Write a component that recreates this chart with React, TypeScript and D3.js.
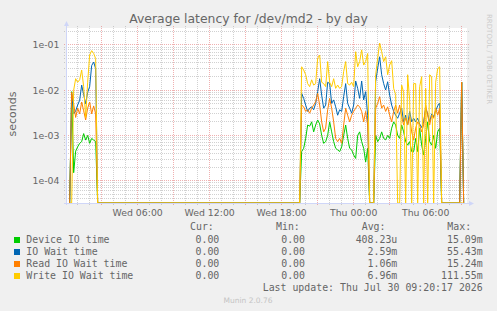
import * as d3 from "d3";

// Munin "by day" latency graph: log y-axis, 5-min rrd steps, 400px plot.

const W = 497;
const H = 311;
const X0 = 67;
const X1 = 467;
const Y0 = 28;
const Y1 = 203;

const TITLE = "Average latency for /dev/md2 - by day";
const Y_LABEL = "seconds";
const VERSION = "Munin 2.0.76";
const LAST_UPDATE = "Last update: Thu Jul 30 09:20:17 2026";
const WATERMARK = "RRDTOOL / TOBI OETIKER";

const VIEW_START = new Date(2026, 6, 29, 0, 6, 40);
const VIEW_END = new Date(2026, 6, 30, 9, 26, 40);
const Y_MIN = 3.21e-5;
const Y_MAX = 0.2376;

// samples read every 10 min from Wed 00:20; outside the bursts the values are 0
const SAMPLE_START = new Date(2026, 6, 29, 0, 20);
const SAMPLE_STEP_MIN = 10;
const SAMPLE_COUNT = 198;

const seriesNames = ["Device IO time", "IO Wait time", "Read IO Wait time", "Write IO Wait time"];
const seriesColors = ["#00cc00", "#0066b3", "#ff8000", "#ffcc00"];
const curText = ["0.00", "0.00", "0.00", "0.00"];
const minText = ["0.00", "0.00", "0.00", "0.00"];
const avgText = ["408.23u", "2.59m", "1.06m", "6.96m"];
const maxText = ["15.09m", "55.43m", "15.24m", "111.55m"];

// burst 1: Wed 00:20 - 02:40
const burst1At = 0;
const device1 = [0, 9.3e-3, 1.5e-4, 4.5e-4, 5.6e-4, 6.7e-4, 7.3e-4, 1.1e-3, 7.9e-4, 1.0e-3, 6.7e-4, 8.6e-4, 7.9e-4, 7.3e-4, 0];
const ioWait1 = [0, 8e-3, 3e-3, 3.5e-3, 4.7e-3, 6e-3, 1.3e-2, 8e-3, 5e-3, 9e-3, 1.2e-2, 3.5e-2, 4.2e-2, 3e-2, 0];
const read1 = [0, 9e-3, 5e-3, 2.5e-3, 4e-3, 3e-3, 5.5e-3, 3.5e-3, 2.2e-3, 4e-3, 5.5e-3, 3e-3, 4.5e-3, 3e-3, 0];
const write1 = [0, 0, 1e-2, 1.8e-2, 1.5e-2, 1.7e-2, 2.8e-2, 1.2e-2, 2.5e-3, 1.5e-2, 6e-2, 7.5e-2, 6.5e-2, 5e-2, 0];

// burst 2: Wed 19:40 - Thu 07:20
const burst2At = 116;
const device2 = [
  0.00044, 0.00052, 0.00086, 0.0017, 0.0016, 0.002, 0.0012, 0.0017, 0.0022, 0.0018,
  0.001, 0.00067, 0.00073, 0.001, 0.002, 0.0012, 0.00073, 0.00052, 0.00048, 0.00044,
  0.00056, 0.001, 0.0017, 0.00086, 0.00052, 0.00048, 0.00037, 0.00031, 0.001, 0.0012,
  0.00073, 0.00052, 0.00026, 0.00052, 0, 0, 0, 0.001, 0.00073, 0.00086,
  0.0012, 0.00086, 0.0008, 0.001, 0.00086, 0.00145, 0.002, 0.0017, 0.001, 0.00086,
  0.0017, 0.0012, 0.00073, 0.00061, 0.00073, 0.00044, 0.00044, 0.00086, 0.00044, 0.00145,
  0.00061, 0.00037, 0.00086, 0.002, 0.00073, 0.00061, 0.001, 0.00052, 0.0012, 0.00145,
  0,
];
const ioWait2 = [
  0.0085, 0.0066, 0.0047, 0.0034, 0.004, 0.0043, 0.0037, 0.0051, 0.0093, 0.018,
  0.0078, 0.004, 0.0047, 0.015, 0.014, 0.0051, 0.0061, 0.0043, 0.0028, 0.0037,
  0.0034, 0.0072, 0.014, 0.0051, 0.004, 0.0031, 0.0047, 0.016, 0.011, 0.0066,
  0.016, 0.0061, 0.0093, 0.0028, 0, 0, 0, 0.0154, 0.0305, 0.055,
  0.022, 0.014, 0.0101, 0.0154, 0.0078, 0.0047, 0.0034, 0.0028, 0.0024, 0.0031,
  0.004, 0.002, 0.0028, 0.0017, 0.0034, 0.002, 0.0024, 0.002, 0.0024, 0.0018,
  0.0015, 0.002, 0.004, 0.003, 0.002, 0.003, 0.0026, 0.0035, 0.0045, 0.0052,
  0,
];
const read2 = [
  0.0047, 0.0043, 0.0034, 0.0037, 0.0031, 0.004, 0.0047, 0.0056, 0.0085, 0.0047,
  0.002, 0.0012, 0.00145, 0.0037, 0.0066, 0.004, 0.002, 0.00086, 0.00073, 0.00086,
  0.00067, 0.0017, 0.004, 0.0028, 0.002, 0.0028, 0.0034, 0.004, 0.0047, 0.0043,
  0.0034, 0.002, 0.0034, 0.0017, 0, 0, 0, 0.004, 0.0051, 0.0072,
  0.004, 0.0047, 0.0034, 0.0043, 0.0028, 0.002, 0.0034, 0.0047, 0.0031, 0.0047,
  0.0026, 0.0017, 0.0024, 0.0017, 0.0026, 0.0012, 0.0008, 0.00145, 0.002, 0.0017,
  0.0012, 0.0017, 0.0047, 0.0028, 0.0017, 0.0028, 0.0024, 0.004, 0.0028, 0.004,
  0,
];
const write2 = [
  0.033, 0.028, 0.022, 0.014, 0.012, 0.017, 0.013, 0.014, 0.051, 0.06,
  0.015, 0.014, 0.012, 0.043, 0.015, 0.012, 0.018, 0.011, 0.013, 0.011,
  0.012, 0.026, 0.043, 0.014, 0.013, 0.015, 0.012, 0.071, 0.033, 0.043,
  0.078, 0.036, 0.043, 0.065, 0, 0, 0, 0.022, 0.051, 0.11,
  0.071, 0.043, 0.055, 0.022, 0.036, 0.045, 0.011, 0.008, 0, 0,
  0.013, 0.009, 0, 0.022, 0.006, 0, 0.014, 0.014, 0, 0.012,
  0.02, 0, 0.011, 0, 0.022, 0.02, 0, 0.015, 0.03, 0.033,
  0,
];

// burst 3: single spike around Thu 09:00
const burst3At = 195;
const device3 = [0, 0.0151, 0];
const ioWait3 = [0, 0.015, 0];
const read3 = [0, 0.0152, 0];
const write3 = [0, 0, 0];

type Pt = { t: Date; v: number };

function buildSeries(parts: [number, number[]][]): Pt[] {
  const out: Pt[] = [];
  for (let k = 0; k < SAMPLE_COUNT; k++) {
    let v = 0;
    for (const [at, vals] of parts) {
      if (k >= at && k < at + vals.length) v = vals[k - at];
    }
    out.push({ t: new Date(+SAMPLE_START + k * SAMPLE_STEP_MIN * 60000), v });
  }
  return out;
}

const seriesData = [
  buildSeries([[burst1At, device1], [burst2At, device2], [burst3At, device3]]),
  buildSeries([[burst1At, ioWait1], [burst2At, ioWait2], [burst3At, ioWait3]]),
  buildSeries([[burst1At, read1], [burst2At, read2], [burst3At, read3]]),
  buildSeries([[burst1At, write1], [burst2At, write2], [burst3At, write3]]),
];

const FONT = "DejaVu Sans, sans-serif";
const MONO = "DejaVu Sans Mono, monospace";
const TXT = "#666666";
const AXIS = "#cfd6f8";
const GRID = "rgba(140,140,140,0.4)";
const MGRID = "rgba(222,79,79,0.45)";

const px = (v: number) => Math.floor(v) + 0.5;

function expLabel(v: number) {
  const e = Math.round(Math.log10(v));
  const s = e < 0 ? "-" : "+";
  return `1e${s}${String(Math.abs(e)).padStart(2, "0")}`;
}

export default function App() {
  const x = d3.scaleTime().domain([VIEW_START, VIEW_END]).range([X0, X1]);
  const y = d3.scaleLog().domain([Y_MIN, Y_MAX]).range([Y1, Y0]).clamp(true);

  const hours = d3.timeHour.range(VIEW_START, VIEW_END);
  const yTicks = y.ticks();
  const isDecade = (v: number) => Math.abs(Math.log10(v) - Math.round(Math.log10(v))) < 1e-9;
  const fmt = d3.timeFormat("%a %H:%M");

  const line = d3
    .line<Pt>()
    .x((d) => x(d.t))
    .y((d) => y(Math.max(d.v, Y_MIN)));

  const colCur = 219.3;
  const colMin = 305;
  const colAvg = 397.3;
  const colMax = 482.7;
  const rowY = (i: number) => 243 + i * 12;

  return (
    <svg
      width={W}
      height={H}
      viewBox={`0 0 ${W} ${H}`}
      style={{ position: "absolute", left: 0, top: 0, display: "block" }}
    >
      <rect x={0} y={0} width={W} height={H} fill="#f0f0f0" />
      <rect x={X0} y={Y0} width={X1 - X0} height={Y1 - Y0} fill="#ffffff" />

      {/* horizontal grid */}
      {yTicks.map((v, i) => (
        <line
          key={`h${i}`}
          x1={X0 - 3}
          x2={X1 + 3}
          y1={px(y(v))}
          y2={px(y(v))}
          stroke={isDecade(v) ? MGRID : GRID}
          strokeDasharray="1,1"
        />
      ))}
      {/* vertical grid */}
      {hours.map((h, i) => (
        <line
          key={`v${i}`}
          x1={px(x(h))}
          x2={px(x(h))}
          y1={Y0 - 2}
          y2={Y1 + 3}
          stroke={h.getHours() % 3 === 0 ? MGRID : GRID}
          strokeDasharray="1,1"
        />
      ))}

      {/* data */}
      {seriesData.map((s, i) => (
        <path
          key={seriesNames[i]}
          d={line(s) ?? ""}
          fill="none"
          stroke={seriesColors[i]}
          strokeWidth={1}
          strokeLinejoin="round"
        />
      ))}

      {/* axes */}
      <line x1={X0 - 0.5} x2={X0 - 0.5} y1={Y1 + 2} y2={Y0 - 3} stroke={AXIS} />
      <path d={`M${X0 - 3},${Y0 - 2} L${X0 - 0.5},${Y0 - 7} L${X0 + 2},${Y0 - 2} Z`} fill={AXIS} />
      <line x1={X0 - 3} x2={X1 + 3} y1={Y1 + 0.5} y2={Y1 + 0.5} stroke={AXIS} />
      <path d={`M${X1 + 2},${Y1 - 2} L${X1 + 7},${Y1 + 0.5} L${X1 + 2},${Y1 + 3} Z`} fill={AXIS} />

      {/* y tick labels */}
      {yTicks.filter(isDecade).map((v, i) => (
        <text
          key={`yl${i}`}
          x={59.5}
          y={y(v) + 3.3}
          textAnchor="end"
          fontFamily={FONT}
          fontSize={9.33}
          fill={TXT}
        >
          {expLabel(v)}
        </text>
      ))}
      {/* x tick labels */}
      {hours
        .filter((h) => h.getHours() % 6 === 0)
        .map((h, i) => (
          <text
            key={`xl${i}`}
            x={x(h)}
            y={216}
            textAnchor="middle"
            fontFamily={FONT}
            fontSize={9.33}
            fill={TXT}
          >
            {fmt(h)}
          </text>
        ))}

      <text x={248.5} y={22.5} textAnchor="middle" fontFamily={FONT} fontSize={12.4} fill={TXT}>
        {TITLE}
      </text>
      <text
        transform="translate(15.5,114) rotate(-90)"
        textAnchor="middle"
        fontFamily={FONT}
        fontSize={11}
        fill={TXT}
      >
        {Y_LABEL}
      </text>
      <text
        transform="translate(486.5,14) rotate(90)"
        fontFamily={FONT}
        fontSize={7}
        fill="#cccccc"
      >
        {WATERMARK}
      </text>

      {/* legend */}
      <g fontFamily={MONO} fontSize={9.9} fill={TXT}>
        <text x={190} y={230.3}>Cur:</text>
        <text x={276} y={230.3}>Min:</text>
        <text x={361.7} y={230.3}>Avg:</text>
        <text x={447.3} y={230.3}>Max:</text>
        {seriesNames.map((n, i) => (
          <g key={n}>
            <rect x={14} y={rowY(i) - 6} width={6} height={6} fill={seriesColors[i]} />
            <text x={26.3} y={rowY(i)}>{n}</text>
            <text x={colCur} y={rowY(i)} textAnchor="end">{curText[i]}</text>
            <text x={colMin} y={rowY(i)} textAnchor="end">{minText[i]}</text>
            <text x={colAvg} y={rowY(i)} textAnchor="end">{avgText[i]}</text>
            <text x={colMax} y={rowY(i)} textAnchor="end">{maxText[i]}</text>
          </g>
        ))}
        <text x={colMax} y={291.3} textAnchor="end">{LAST_UPDATE}</text>
      </g>
      <text x={248} y={303} textAnchor="middle" fontFamily={FONT} fontSize={7.5} fill="#c4c4c4">
        {VERSION}
      </text>
    </svg>
  );
}
